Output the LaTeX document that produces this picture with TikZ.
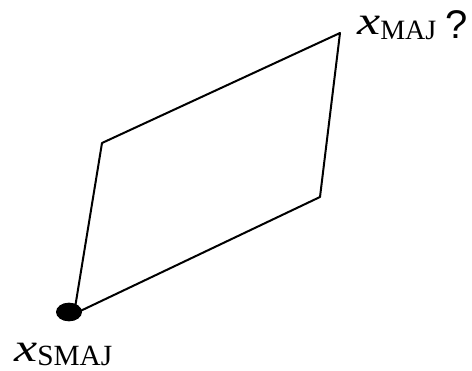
\documentclass[tikz,border=0pt]{standalone}
\usepackage{fontspec}
\setmainfont{Liberation Serif}
\newfontfamily\sansq{Liberation Sans}
\usepackage{graphicx}
\usepackage{tikz}
\usetikzlibrary{shapes.geometric}

\begin{document}
\begin{tikzpicture}[x=0.75pt, y=-0.75pt, line join=round, line cap=round]
	\tikzset{
		edge/.style={line width=1.5pt, black},
		dot/.style={ellipse, fill=black, inner sep=0pt, minimum width=19.5pt, minimum height=14pt},
		lbl/.style={anchor=base west, inner sep=0pt}
	}
	\useasboundingbox (0,0) rectangle (472,371);
	
	% 1. Đỉnh của hình bình hành
	\coordinate (A) at (74,314);
	\coordinate (B) at (102,143);
	\coordinate (C) at (340,33);
	\coordinate (D) at (320,197);
	
	% 2. Các cạnh
	\draw[edge] (A) -- (B) -- (C) -- (D) -- cycle;
	
	% 3. Điểm xuất phát
	\node[dot] (smaj) at (69,312) {};
	
	% 4. Nhãn
	\node[lbl] (lsmaj) at (14,361) {\scalebox{1.3}[1]{\fontsize{30}{30}\selectfont\itshape x}\raisebox{-3.5pt}{\fontsize{22}{22}\selectfont SMAJ}};
	\node[lbl] (lmaj) at (357,34) {\scalebox{1.3}[1]{\fontsize{30}{30}\selectfont\itshape x}\raisebox{-4.5pt}{\fontsize{21}{21}\selectfont MAJ}\hspace{7pt}\raisebox{-3pt}{\sansq\fontsize{30}{30}\selectfont ?}};
\end{tikzpicture}
\end{document}
